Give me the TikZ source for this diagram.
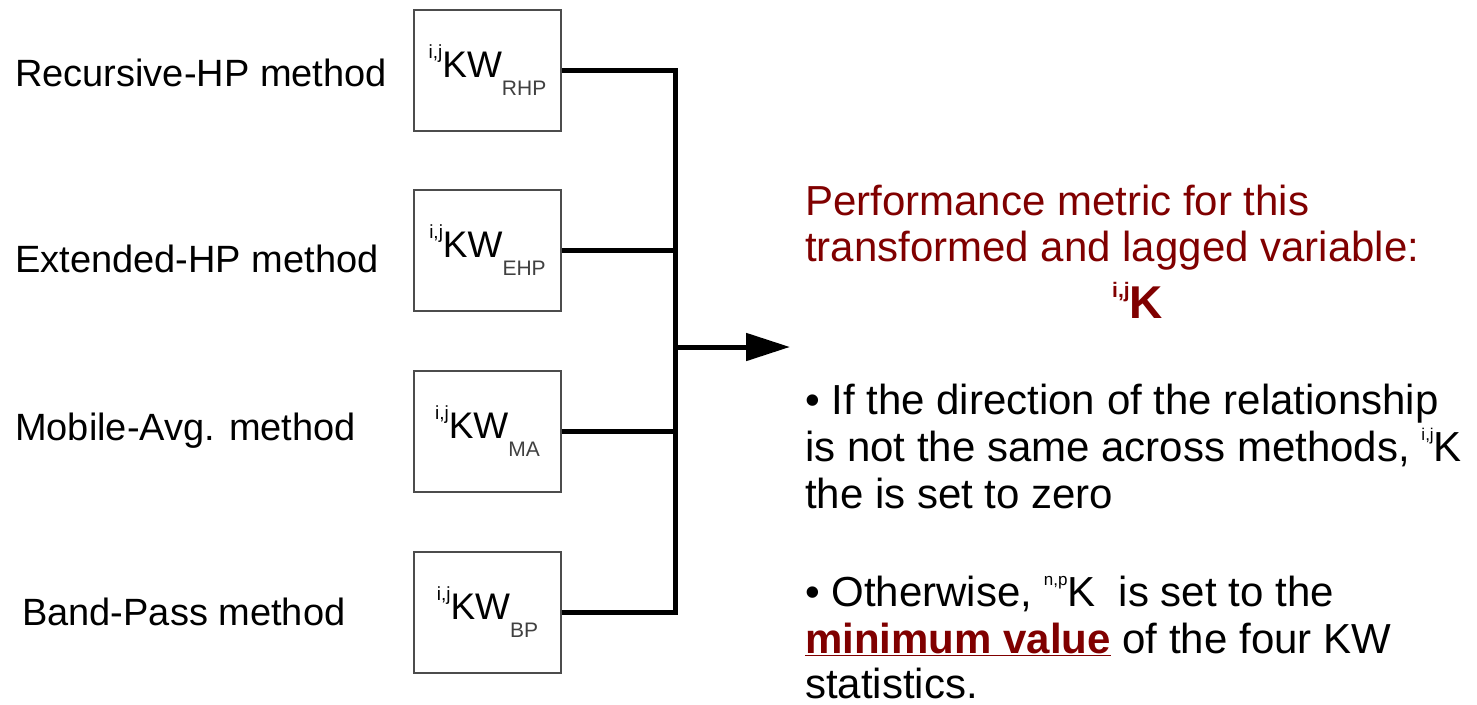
\documentclass[tikz,border=0pt]{standalone}
\usepackage{fontspec}
\setmainfont{Liberation Sans}
\usetikzlibrary{arrows.meta}
\definecolor{maroon}{HTML}{800000}
\newcommand\kwtxt[2]{\raisebox{0.5em}{\fontsize{19}{19}\selectfont #1}KW\raisebox{-0.5em}{\fontsize{21}{21}\selectfont\color{black!75}#2}}
\newcommand\supsm[1]{\raisebox{0.5em}{\fontsize{17}{17}\selectfont #1}}
\begin{document}
\begin{tikzpicture}[x=1pt,y=-1pt,
 kwbox/.style={draw=black!70, line width=1.5pt, minimum width=147pt, minimum height=121pt, inner sep=0pt, font=\fontsize{37}{37}\selectfont},
 lbl/.style={anchor=base west, inner sep=0pt, font=\fontsize{38}{38}\selectfont},
 conn/.style={line width=5pt},
 rt/.style={anchor=base west, inner sep=0pt, font=\fontsize{42}{42}\selectfont}]
\useasboundingbox (0,0) rectangle (1477,704);
% boxes
\node[kwbox] (b1) at (487.5,70.5) {\kwtxt{i,j}{RHP}};
\node[kwbox] (b2) at (487.5,250.5) {\kwtxt{i,j}{EHP}};
\node[kwbox] (b3) at (487.5,431.5) {\kwtxt{i,j}{MA}};
\node[kwbox] (b4) at (487.5,612.5) {\kwtxt{i,j}{BP}};
% labels
\node[lbl] (l1) at (15,86.5) {Recursive-HP method};
\node[lbl] (l2) at (15,272.5) {Extended-HP method};
\node[lbl] (l3) at (15,440.5) {Mobile-Avg. method};
\node[lbl] (l4) at (22,625.5) {Band-Pass method};
% connectors
\coordinate (sp) at (675,0);
\coordinate (junc) at (675,347);
\coordinate (arr) at (790,347);
\draw[conn, line join=miter] (b1.east) -- (b1.east -| sp) |- (b4.east);
\draw[conn] (b2.east) -- (b2.east -| sp);
\draw[conn] (b3.east) -- (b3.east -| sp);
\draw[conn, -{Triangle[length=44pt,width=27pt]}] (junc) -- (arr);
% right text
\node[rt, text=maroon] (p1) at (805,215) {Performance metric for this};
\node[rt, text=maroon] (p2) at (805,261) {transformed and lagged variable:};
\node[rt, text=maroon, font=\fontsize{46}{46}\selectfont\bfseries] (p3) at (1112,318) {\raisebox{0.45em}{\fontsize{21}{21}\selectfont i,j}K};
\node[rt] (q1) at (805,414) {• If the direction of the relationship};
\node[rt] (q2) at (805,461) {is not the same across methods, \supsm{i,j}K};
\node[rt] (q3) at (805,508) {the is set to zero};
\node[rt] (q4) at (805,606) {• Otherwise, \supsm{n,p}K\ \ is set to the};
\node[rt] (q5) at (805,653) {{\color{maroon}\bfseries\underline{minimum value}} of the four KW};
\node[rt] (q6) at (805,698) {statistics.};
\end{tikzpicture}
\end{document}
